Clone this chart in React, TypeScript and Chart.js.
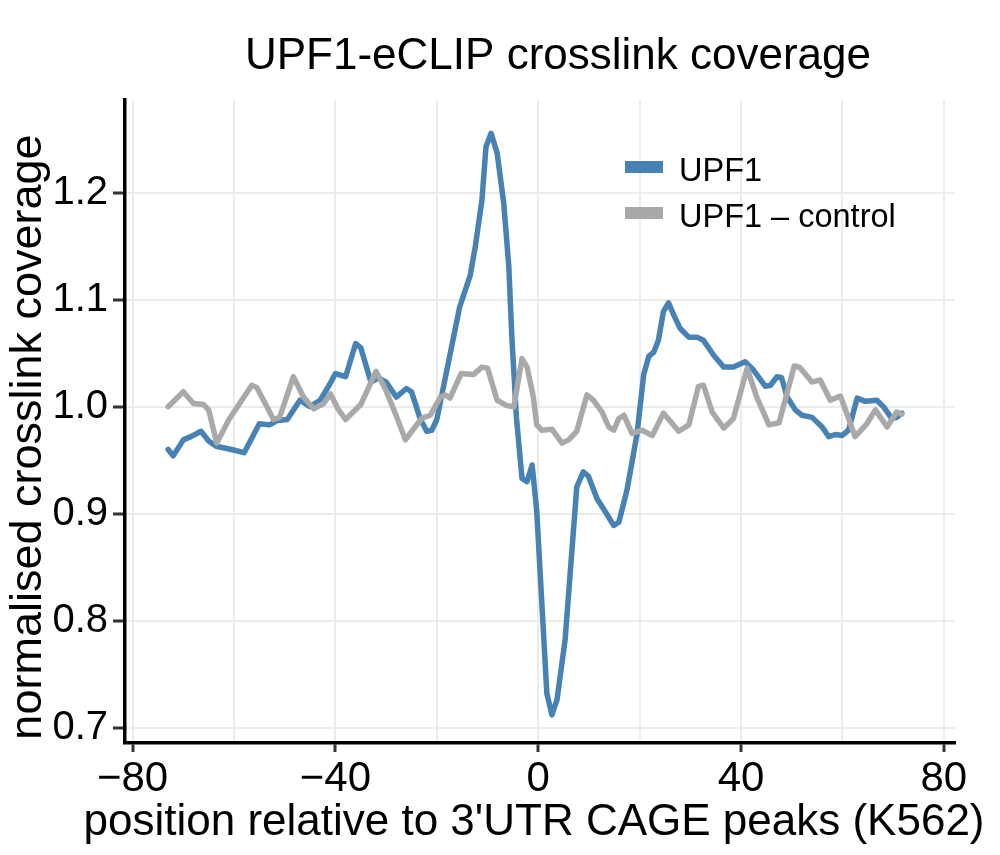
import React, { useEffect, useRef } from 'react';
import { Chart, registerables } from 'chart.js';

Chart.register(...registerables);

// ---------- data ----------
const upf1X = [
  -73, -72, -70, -68.5, -66.5, -65, -63.5, -60.5, -58, -55, -53, -51.5, -49.5, -47, -45, -43, -41, -40,
  -38, -36, -35, -33, -31.5, -30, -28, -26, -25, -23.3, -22, -21, -20, -16.4, -15.5, -13.4, -12.4,
  -11.1, -10.3, -9.3, -8.1, -6.8, -5.8, -5.2, -4.3, -3.2, -2.2, -1.2, -0.3, 1.7, 2.7, 3.7, 5.3, 7.6,
  8.9, 9.9, 11.6, 13.2, 14.9, 15.9, 17.5, 19.5, 20.8, 21.8, 22.8, 23.7, 24.7, 25.7, 26.7, 28, 29.7,
  31.3, 32.6, 34.6, 36.6, 38.5, 40.8, 42.5, 44.8, 45.8, 47.1, 48, 49.1, 50.7, 52, 54, 56, 57.3, 58.6,
  59.9, 61.2, 62.9, 64.5, 66.8, 68.1, 69.7, 70.7, 71.7,
];
const upf1Y = [
  0.960, 0.954, 0.969, 0.972, 0.977, 0.968, 0.963, 0.960, 0.957, 0.984, 0.983, 0.987, 0.988, 1.006,
  1.000, 1.006, 1.022, 1.031, 1.028, 1.059, 1.055, 1.023, 1.027, 1.023, 1.009, 1.017, 1.014, 0.989,
  0.977, 0.978, 0.988, 1.072, 1.093, 1.123, 1.150, 1.193, 1.243, 1.2555, 1.237, 1.190, 1.131, 1.065,
  0.990, 0.933, 0.930, 0.9455, 0.903, 0.732, 0.712, 0.726, 0.782, 0.925, 0.939, 0.935, 0.914, 0.902,
  0.889, 0.892, 0.922, 0.975, 1.030, 1.047, 1.051, 1.062, 1.089, 1.097, 1.086, 1.073, 1.065, 1.065,
  1.062, 1.048, 1.037, 1.037, 1.042, 1.034, 1.019, 1.020, 1.028, 1.027, 1.009, 0.997, 0.992, 0.990,
  0.981, 0.972, 0.974, 0.973, 0.978, 1.008, 1.005, 1.006, 1.000, 0.989, 0.990, 0.994,
];
const ctrlX = [
  -73, -70, -68, -66, -65, -63.4, -61, -56.5, -55.5, -52.2, -51, -48.3, -46.3, -44.3, -42.3, -41,
  -39.5, -38, -35, -32, -30.2, -28.2, -26.2, -24.3, -23, -21.3, -19.3, -18.3, -17.4, -15.2, -12.8,
  -11.1, -10, -8.1, -6.2, -4.8, -3.2, -2.2, -1, -0.3, 0.7, 2.7, 4.7, 6, 7.6, 9.6, 10.9, 12.6, 13.9,
  14.9, 15.9, 16.9, 18.5, 20.5, 22.5, 24.7, 27.7, 29.7, 31.6, 32.6, 34.3, 36.6, 38.5, 41.2, 43.1,
  45.5, 47.5, 50.5, 51.5, 54, 55.6, 57.6, 59.6, 62.5, 64.8, 66.5, 68.8, 70.7, 71.7,
];
const ctrlY = [
  1.000, 1.014, 1.003, 1.002, 0.997, 0.966, 0.988, 1.020, 1.018, 0.988, 0.990, 1.028, 1.009, 0.998,
  1.003, 1.012, 0.998, 0.988, 1.002, 1.033, 1.017, 0.994, 0.969, 0.981, 0.989, 0.992, 1.009, 1.011,
  1.008, 1.031, 1.030, 1.037, 1.036, 1.006, 1.001, 1.000, 1.045, 1.037, 1.010, 0.983, 0.978, 0.979,
  0.966, 0.969, 0.977, 1.011, 1.006, 0.995, 0.981, 0.978, 0.989, 0.992, 0.975, 0.978, 0.973, 0.994,
  0.977, 0.983, 1.019, 1.020, 0.995, 0.980, 0.989, 1.036, 1.009, 0.983, 0.985, 1.038, 1.037, 1.023,
  1.025, 1.006, 1.010, 0.972, 0.984, 0.997, 0.981, 0.995, 0.993,
];
const xGridValues = [-80, -60, -40, -20, 0, 20, 40, 60, 80];
const xLabelValues = [-80, -40, 0, 40, 80];
const yGridValues = [0.7, 0.8, 0.9, 1.0, 1.1, 1.2];
const seriesLabels = ['UPF1', 'UPF1 \u2013 control'];
const seriesColors = ['#4682B4', '#A9A9A9'];
const titleText = 'UPF1-eCLIP crosslink coverage';
const xTitleText = "position relative to 3'UTR CAGE peaks (K562)";
const yTitleText = 'normalised crosslink coverage';

const FONT = '"Liberation Sans", Arial, Helvetica, sans-serif';

const textPlugin = {
  id: 'textPlugin',
  afterDraw(chart: any) {
    const ctx = chart.ctx;
    ctx.save();
    ctx.fillStyle = '#000';
    ctx.textBaseline = 'alphabetic';
    ctx.textAlign = 'center';

    // title
    ctx.font = `44px ${FONT}`;
    ctx.fillText(titleText, 558, 69);

    // x title
    ctx.font = `44px ${FONT}`;
    ctx.fillText(xTitleText, 534, 835);

    // y title
    ctx.save();
    ctx.translate(41, 437);
    ctx.rotate(-Math.PI / 2);
    ctx.font = `45px ${FONT}`;
    ctx.fillText(yTitleText, 0, 0);
    ctx.restore();

    // legend
    ctx.textAlign = 'left';
    ctx.font = `32.5px ${FONT}`;
    const lx = 625;
    const ly = [167, 213];
    seriesLabels.forEach((lab, i) => {
      ctx.fillStyle = seriesColors[i];
      ctx.fillRect(lx, ly[i] - 6, 38, 12);
      ctx.fillStyle = '#000';
      ctx.fillText(lab, lx + 54, ly[i] + 14);
    });
    ctx.restore();
  },
};

export default function App() {
  const canvasRef = useRef<HTMLCanvasElement | null>(null);

  useEffect(() => {
    const canvas = canvasRef.current;
    if (!canvas) return;
    const chart = new Chart(canvas, {
      type: 'line',
      data: {
        datasets: [
          {
            label: seriesLabels[0],
            data: upf1X.map((x, i) => ({ x, y: upf1Y[i] })),
            borderColor: seriesColors[0],
            borderWidth: 5.5,
            pointRadius: 0,
            tension: 0,
            borderJoinStyle: 'round',
            borderCapStyle: 'round',
            order: 2,
          },
          {
            label: seriesLabels[1],
            data: ctrlX.map((x, i) => ({ x, y: ctrlY[i] })),
            borderColor: seriesColors[1],
            borderWidth: 5.5,
            pointRadius: 0,
            tension: 0,
            borderJoinStyle: 'round',
            borderCapStyle: 'round',
            order: 1,
          },
        ],
      },
      options: {
        animation: false,
        responsive: false,
        devicePixelRatio: 1,
        layout: { padding: { top: 100, right: 45, left: 0, bottom: 0 } },
        plugins: { legend: { display: false }, tooltip: { enabled: false }, title: { display: false } },
        scales: {
          x: {
            type: 'linear',
            min: -81.5,
            max: 82.2,
            afterFit: (s: any) => {
              s.height = 112;
            },
            afterBuildTicks: (s: any) => {
              s.ticks = xGridValues.map((v) => ({ value: v }));
            },
            ticks: {
              autoSkip: false,
              maxRotation: 0,
              padding: 2,
              color: '#000',
              font: { size: 42, family: FONT },
              callback: (v: any) => {
                const n = Number(v);
                if (!xLabelValues.includes(n)) return '';
                return n < 0 ? '\u2212' + Math.abs(n) : String(n);
              },
            },
            grid: {
              color: '#ebebeb',
              lineWidth: 2,
              tickLength: 9,
              tickColor: (c: any) => (c.tick && xLabelValues.includes(c.tick.value) ? '#333' : 'rgba(0,0,0,0)'),
              tickWidth: 3,
            },
            border: { display: true, color: '#000', width: 3.5 },
          },
          y: {
            type: 'linear',
            min: 0.6857,
            max: 1.2866,
            afterFit: (s: any) => {
              s.width = 125;
            },
            afterBuildTicks: (s: any) => {
              s.ticks = yGridValues.map((v) => ({ value: v }));
            },
            ticks: {
              padding: 5,
              color: '#000',
              font: { size: 40, family: FONT },
              callback: (v: any) => Number(v).toFixed(1),
            },
            grid: {
              color: '#ebebeb',
              lineWidth: 2,
              tickLength: 12,
              tickColor: '#333',
              tickWidth: 3,
            },
            border: { display: true, color: '#000', width: 3.5 },
          },
        },
      },
      plugins: [textPlugin],
    } as any);
    return () => chart.destroy();
  }, []);

  return (
    <div style={{ position: 'absolute', left: 0, top: 0, width: 1000, height: 855, background: '#fff' }}>
      <canvas ref={canvasRef} width={1000} height={855} style={{ width: 1000, height: 855, display: 'block' }} />
    </div>
  );
}
